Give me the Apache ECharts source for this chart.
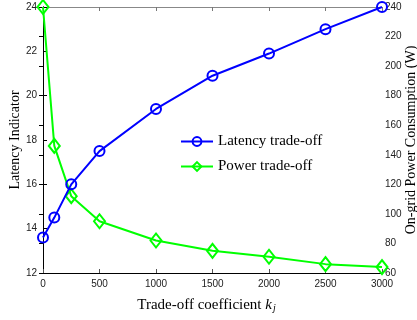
<!DOCTYPE html>
<html><head><meta charset="utf-8">
<script src="https://cdn.jsdelivr.net/npm/echarts@6/dist/echarts.min.js"></script>
<style>html,body{margin:0;padding:0;background:#fff}#c{width:417px;height:320px}</style>
</head><body><div id="c"></div>
<script>
const kValues = [0, 100, 250, 500, 1000, 1500, 2000, 2500, 3000];
const latency = [13.6, 14.5, 16.0, 17.5, 19.4, 20.9, 21.9, 23.0, 24.0];
const power = [240, 146, 112, 95, 82, 75, 71, 66, 64];
const xTicks = [0, 500, 1000, 1500, 2000, 2500, 3000];

const chart = echarts.init(document.getElementById('c'));
const tickFont = {fontFamily: 'Liberation Sans, Arial, sans-serif', fontSize: 10, color: '#222'};
const nameFont = {fontFamily: 'Liberation Serif, Times New Roman, serif', fontSize: 14, color: '#000'};
chart.setOption({
  animation: false,
  grid: {left: 43, right: 35, top: 7, bottom: 47, outerBoundsMode: 'none', containLabel: false},
  legend: {
    orient: 'vertical', left: 175, top: 129, itemWidth: 32, itemHeight: 11, itemGap: 10,
    textStyle: {fontFamily: 'Liberation Serif, Times New Roman, serif', fontSize: 15, color: '#000'},
    data: ['Latency trade-off', 'Power trade-off']
  },
  xAxis: [{
    type: 'value', min: 0, max: 3000, interval: 500,
    name: '{a|Trade-off coefficient }{k|k}{j|j}', nameLocation: 'middle', nameGap: 24, nameMoveOverlap: false,
    nameTextStyle: {padding: [0, 12, 0, 0], rich: {
      a: {fontFamily: 'Liberation Serif, serif', fontSize: 15, color: '#000'},
      k: {fontFamily: 'Liberation Serif, serif', fontSize: 15, fontStyle: 'italic', color: '#000'},
      j: {fontFamily: 'Liberation Serif, serif', fontSize: 10, fontStyle: 'italic', color: '#000', padding: [6, 0, 0, 1]}
    }},
    axisLine: {lineStyle: {color: '#000', width: 1}},
    axisTick: {inside: true, length: 4, lineStyle: {color: '#555'}},
    axisLabel: Object.assign({margin: 6, formatter: v => xTicks.includes(v) ? String(v) : ''}, tickFont),
    splitLine: {show: false}
  }, {
    type: 'value', min: 0, max: 3000, interval: 500, position: 'top',
    axisLine: {lineStyle: {color: '#888', width: 1}},
    axisTick: {inside: true, length: 4, lineStyle: {color: '#777'}},
    axisLabel: {show: false}, splitLine: {show: false}
  }],
  yAxis: [{
    type: 'value', min: 12, max: 24, interval: 2,
    name: 'Latency Indicator', nameLocation: 'middle', nameGap: 21, nameMoveOverlap: false, nameTextStyle: nameFont,
    axisLine: {show: true, lineStyle: {color: '#000', width: 1}},
    axisTick: {inside: true, length: 4, lineStyle: {color: '#000'}},
    axisLabel: Object.assign({margin: 6}, tickFont),
    splitLine: {show: false}
  }, {
    type: 'value', min: 60, max: 240, interval: 20, position: 'right',
    name: 'On-grid Power Consumption (W)', nameLocation: 'middle', nameGap: 22, nameRotate: 90, nameMoveOverlap: false, nameTextStyle: nameFont,
    axisLine: {show: true, lineStyle: {color: '#000', width: 1}},
    axisTick: {inside: true, length: 4, lineStyle: {color: '#000'}},
    axisLabel: Object.assign({margin: 3}, tickFont),
    splitLine: {show: false}
  }],
  series: [{
    name: 'Latency trade-off', type: 'line', yAxisIndex: 0,
    data: kValues.map((k, i) => [k, latency[i]]),
    symbol: 'circle', symbolSize: 10,
    lineStyle: {color: '#0000ff', width: 2},
    itemStyle: {color: 'rgba(255,255,255,0)', borderColor: '#0000ff', borderWidth: 2},
    z: 3
  }, {
    name: 'Power trade-off', type: 'line', yAxisIndex: 1,
    data: kValues.map((k, i) => [k, power[i]]),
    symbol: 'diamond', symbolSize: [11, 14],
    lineStyle: {color: '#00ff00', width: 2},
    itemStyle: {color: 'rgba(255,255,255,0)', borderColor: '#00ff00', borderWidth: 2},
    z: 2
  }]
});
</script></body></html>
